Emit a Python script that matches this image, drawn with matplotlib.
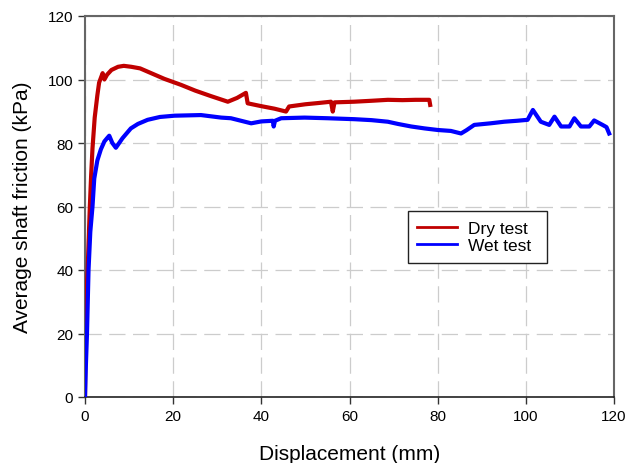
import matplotlib
matplotlib.use("Agg")
import matplotlib.pyplot as plt

plt.rcParams['font.family'] = ['Liberation Sans', 'DejaVu Sans']

# Dry test (red)
dry_x = [0.0, 0.1, 0.3, 0.6, 0.9, 1.1, 1.4, 1.7, 2.2, 2.8, 3.2, 4.0, 4.4, 5.0, 6.0,
         7.5, 8.8, 10.5, 12.5, 15.0, 18.0, 21.8, 25.0, 28.5, 32.4, 34.5, 36.5, 36.9,
         40.0, 43.0, 45.6, 46.3, 50.0, 53.0, 55.8, 56.2, 56.6, 61.0, 65.0, 68.7,
         72.0, 75.0, 78.1, 78.3]
dry_y = [0.0, 20.0, 32.0, 40.0, 52.0, 60.0, 70.0, 78.3, 88.0, 95.0, 99.0, 102.0,
         100.0, 101.5, 103.0, 104.0, 104.3, 104.0, 103.5, 102.0, 100.2, 98.3,
         96.5, 94.8, 93.0, 94.2, 95.8, 92.5, 91.6, 90.8, 89.9, 91.5, 92.2, 92.6,
         93.0, 89.9, 92.8, 93.0, 93.3, 93.6, 93.5, 93.6, 93.6, 92.0]

# Wet test (blue)
wet_x = [0.0, 0.2, 0.45, 0.8, 1.2, 1.7, 2.1, 2.8, 3.6, 4.4, 5.0, 5.5, 6.2, 7.0,
         8.5, 10.4, 12.0, 14.2, 17.0, 20.3, 26.3, 30.9, 33.1, 37.7, 40.0, 42.6,
         42.8, 43.1, 44.5, 49.8, 55.0, 61.1, 65.0, 68.7, 71.0, 74.0, 77.0, 80.0,
         83.0, 85.3, 86.5, 88.3, 92.0, 95.1, 98.0, 100.4, 101.6, 103.4, 105.3,
         106.5, 108.0, 109.9, 111.0, 112.5, 114.4, 115.5, 117.4, 118.3, 118.9]
wet_y = [0.0, 10.0, 20.0, 40.0, 52.0, 60.0, 68.8, 74.5, 78.0, 80.5, 81.5, 82.3,
         80.0, 78.5, 81.5, 84.6, 86.0, 87.3, 88.2, 88.6, 88.8, 88.0, 87.8, 86.2,
         86.8, 87.0, 85.2, 87.0, 87.8, 88.0, 87.8, 87.5, 87.2, 86.7, 86.0, 85.2,
         84.6, 84.1, 83.8, 83.0, 84.0, 85.7, 86.2, 86.7, 87.0, 87.3, 90.4, 86.7,
         85.7, 88.3, 85.2, 85.2, 87.8, 85.2, 85.2, 87.1, 85.7, 85.0, 83.0]

x_ticks = [0, 20, 40, 60, 80, 100, 120]
y_ticks = [0, 20, 40, 60, 80, 100, 120]

fig = plt.figure(figsize=(6.37, 4.64), dpi=100)
ax = fig.add_axes([85 / 637, 1 - 398 / 464, 529 / 637, 381 / 464])

ax.plot(dry_x, dry_y, color='#c00000', linewidth=3.0, label='Dry test', zorder=3)
ax.plot(wet_x, wet_y, color='#0000ff', linewidth=3.0, label='Wet test', zorder=3)

ax.set_xlim(0, 120)
ax.set_ylim(0, 120)
ax.set_xticks(x_ticks)
ax.set_yticks(y_ticks)
ax.tick_params(direction='out', length=5, width=1, labelsize=11, color='#333333')
ax.grid(True, color='#cccccc', linestyle=(0, (13, 6)), linewidth=0.9)
ax.set_axisbelow(True)

for side in ['top', 'right', 'left']:
    ax.spines[side].set_color('#666666')
    ax.spines[side].set_linewidth(1.5)
ax.spines['bottom'].set_color('#222222')
ax.spines['bottom'].set_linewidth(1.2)

ax.set_xlabel('Displacement (mm)', fontsize=15, labelpad=15)
ax.set_ylabel('Average shaft friction (kPa)', fontsize=15, labelpad=11)

leg = ax.legend(loc='lower left', bbox_to_anchor=(0.61, 0.352, 0.263, 0.149),
                mode='expand', borderaxespad=0, fontsize=12.5, fancybox=False,
                framealpha=1, edgecolor='#222222', handlelength=2.3,
                handletextpad=0.6, borderpad=0.55, labelspacing=0.15)
for line in leg.get_lines():
    line.set_linewidth(2)
leg.get_frame().set_linewidth(1)

fig.savefig('out.png', dpi=100)
